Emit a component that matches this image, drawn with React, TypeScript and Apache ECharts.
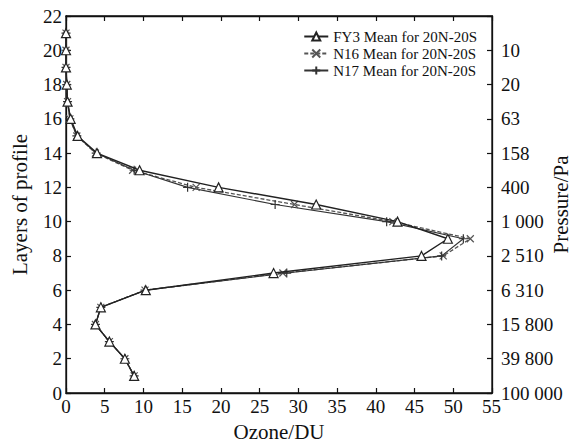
import React, { useEffect, useRef } from "react";
import * as echarts from "echarts";

const layers = [1, 2, 3, 4, 5, 6, 7, 8, 9, 10, 11, 12, 13, 14, 15, 16, 17, 18, 19, 20, 21];
const fy3 = [8.8, 7.6, 5.6, 3.8, 4.5, 10.3, 26.8, 45.9, 49.3, 42.8, 32.3, 19.7, 9.5, 4.0, 1.5, 0.6, 0.2, 0.1, 0.0, 0.0, 0.0];
const n16 = [8.8, 7.6, 5.6, 3.8, 4.5, 10.2, 28.0, 48.7, 52.2, 42.2, 29.5, 16.8, 8.6, 3.8, 1.4, 0.5, 0.2, 0.1, 0.0, 0.0, 0.0];
const n17 = [8.8, 7.6, 5.6, 3.8, 4.5, 10.2, 28.5, 48.5, 51.3, 41.4, 27.0, 15.7, 8.8, 3.9, 1.4, 0.5, 0.2, 0.1, 0.0, 0.0, 0.0];
const pressureTicks = [0, 2, 4, 6, 8, 10, 12, 14, 16, 18, 20];
const pressureLabels = ["100 000", "39 800", "15 800", "6 310", "2 510", "1 000", "400", "158", "63", "20", "10"];
const seriesNames = ["FY3 Mean for 20N-20S", "N16 Mean for 20N-20S", "N17 Mean for 20N-20S"];
const X_MAX = 55;

const W = 578;
const H = 448;
const GRID = { left: 66, right: 86, top: 16, bottom: 55 };

const FONT = "Liberation Serif";
const X_PATH = "path://M0,0L10,10M10,0L0,10";
const PLUS_PATH = "path://M5,0L5,10M0,5L10,5";

export default function App() {
  const ref = useRef<HTMLDivElement>(null);
  useEffect(() => {
    if (!ref.current) return;
    const chart = echarts.init(ref.current, null, { renderer: "svg" });
    const pts = (arr: number[]) => arr.map((v, i) => [v, layers[i]]);
    const axisCommon = {
      min: 0,
      axisLine: { show: true, onZero: false, lineStyle: { color: "#111", width: 1.3 } },
      axisTick: { show: true, inside: true, length: 5, lineStyle: { color: "#111", width: 1.2 } },
      splitLine: { show: false },
      axisLabel: { color: "#111", fontFamily: FONT, fontSize: 19, showMaxLabel: true, showMinLabel: true, hideOverlap: false },
      nameMoveOverlap: false,
    };
    chart.setOption({
      animation: false,
      backgroundColor: "#fff",
      textStyle: { fontFamily: FONT },
      grid: {
        ...GRID,
        containLabel: false,
        outerBoundsMode: "none",
        show: true,
        borderColor: "#111",
        borderWidth: 1.3,
        backgroundColor: "transparent",
      },
      legend: {
        orient: "vertical",
        right: 96,
        top: 24,
        itemGap: 2,
        itemWidth: 24,
        itemHeight: 10,
        textStyle: { fontFamily: FONT, fontSize: 15, color: "#111" },
        data: seriesNames,
      },
      graphic: [
        {
          type: "text",
          left: W - GRID.right - 10,
          top: H - GRID.bottom + 4,
          z: 100,
          style: {
            text: String(X_MAX),
            fontFamily: FONT,
            fontSize: 19,
            fill: "#111",
          },
        },
      ],
      xAxis: [
        {
          ...axisCommon,
          type: "value",
          position: "bottom",
          max: X_MAX,
          interval: 5,
          axisLabel: {
            ...axisCommon.axisLabel,
            margin: 4,
            formatter: (v: number) => (v === X_MAX ? "" : String(v)),
          },
          name: "Ozone/DU",
          nameLocation: "middle",
          nameGap: 28,
          nameTextStyle: { fontFamily: FONT, fontSize: 21, color: "#111" },
        },
        {
          ...axisCommon,
          type: "value",
          position: "top",
          max: X_MAX,
          interval: 5,
          axisLabel: { show: false },
        },
      ],
      yAxis: [
        {
          ...axisCommon,
          type: "value",
          position: "left",
          max: 22,
          interval: 2,
          axisLabel: { ...axisCommon.axisLabel, margin: 4 },
          name: "Layers of profile",
          nameLocation: "middle",
          nameGap: 36,
          nameRotate: 90,
          nameTextStyle: { fontFamily: FONT, fontSize: 21, color: "#111" },
        },
        {
          ...axisCommon,
          type: "value",
          position: "right",
          max: 22,
          interval: 2,
          axisLabel: {
            ...axisCommon.axisLabel,
            margin: 9,
            formatter: (v: number) => {
              const idx = pressureTicks.indexOf(v);
              return idx >= 0 ? pressureLabels[idx] : "";
            },
          },
          name: "Pressure/Pa",
          nameLocation: "middle",
          nameGap: 58,
          nameRotate: 90,
          nameTextStyle: { fontFamily: FONT, fontSize: 21, color: "#111" },
        },
      ],
      series: [
        {
          name: seriesNames[0],
          type: "line",
          data: pts(fy3),
          symbol: "triangle",
          symbolSize: 9,
          xAxisIndex: 0,
          yAxisIndex: 0,
          itemStyle: { color: "#fff", borderColor: "#222", borderWidth: 1.2 },
          lineStyle: { color: "#222", width: 1.4 },
          z: 3,
        },
        {
          name: seriesNames[1],
          type: "line",
          data: pts(n16),
          symbol: X_PATH,
          symbolSize: 7,
          xAxisIndex: 0,
          yAxisIndex: 0,
          itemStyle: { color: "#fff", borderColor: "#555", borderWidth: 1.2 },
          lineStyle: { color: "#555", width: 1.3, type: [4, 2] },
          z: 2,
        },
        {
          name: seriesNames[2],
          type: "line",
          data: pts(n17),
          symbol: PLUS_PATH,
          symbolSize: 9,
          xAxisIndex: 0,
          yAxisIndex: 0,
          itemStyle: { color: "#fff", borderColor: "#333", borderWidth: 1.2 },
          lineStyle: { color: "#333", width: 1.1 },
          z: 2,
        },
      ],
    });
    return () => chart.dispose();
  }, []);
  return <div ref={ref} style={{ width: W, height: H, margin: -8 }} />;
}
